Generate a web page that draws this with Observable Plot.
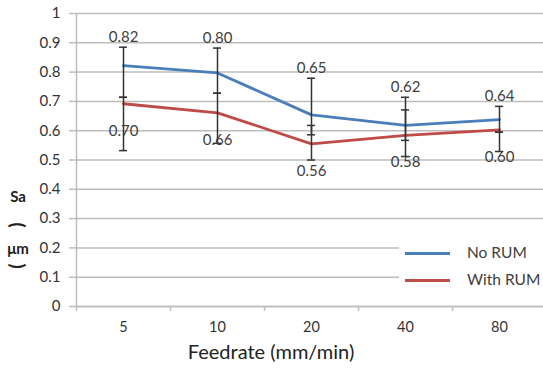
<!DOCTYPE html>
<html>
<head>
<meta charset="utf-8">
<script src="https://cdn.jsdelivr.net/npm/d3@7"></script>
<script src="https://cdn.jsdelivr.net/npm/@observablehq/plot@0.6"></script>
<style>
  html, body { margin: 0; padding: 0; background: #fff; }
  #wrap { position: relative; width: 543px; height: 375px; overflow: hidden; font-family: Lato, "Open Sans", sans-serif; color: #404040; }
  #legend { position: absolute; left: 399px; top: 239px; width: 150px; height: 54px; background: #fff; }
  .lg { position: absolute; left: 6px; width: 45px; height: 0; border-top: 3px solid; }
  .lt { position: absolute; left: 68px; font-size: 15.5px; color: #404040; }
</style>
</head>
<body>
<div id="wrap"></div>
<script>
const feedrates = ["5", "10", "20", "40", "80"];
const noRUM = [0.822, 0.797, 0.654, 0.618, 0.638];
const withRUM = [0.692, 0.661, 0.555, 0.584, 0.603];
const noRUMLabels = ["0.82", "0.80", "0.65", "0.62", "0.64"];
const withRUMLabels = ["0.70", "0.66", "0.56", "0.58", "0.60"];
const noRUMLow = [0.714, 0.728, 0.586, 0.567, 0.595];
const noRUMHigh = [0.885, 0.882, 0.779, 0.714, 0.683];
const withRUMLow = [0.532, 0.557, 0.500, 0.512, 0.529];
const withRUMHigh = [0.714, 0.728, 0.618, 0.671, 0.595];
const yTicks = [0, 0.1, 0.2, 0.3, 0.4, 0.5, 0.6, 0.7, 0.8, 0.9, 1];
const yTickLabels = ["0", "0.1", "0.2", "0.3", "0.4", "0.5", "0.6", "0.7", "0.8", "0.9", "1"];
const seriesNames = ["No RUM", "With RUM"];
const colors = ["#4a7ebb", "#be4b48"];
const yTitleParts = ["Sa", "(", "μm", ")"];

const rows = feedrates.flatMap((f, i) => [
  {f, series: seriesNames[0], v: noRUM[i], lo: noRUMLow[i], hi: noRUMHigh[i], label: noRUMLabels[i]},
  {f, series: seriesNames[1], v: withRUM[i], lo: withRUMLow[i], hi: withRUMHigh[i], label: withRUMLabels[i]}
]);
const blue = rows.filter(d => d.series === seriesNames[0]);
const red = rows.filter(d => d.series === seriesNames[1]);
const caps = rows.flatMap(d => [{f: d.f, y: d.lo}, {f: d.f, y: d.hi}]);

const W = 543, H = 375;
const bw = 94;
const chart = Plot.plot({
  width: W,
  height: H,
  marginTop: 13,
  marginBottom: 69,
  marginLeft: 76,
  marginRight: 0,
  style: {fontFamily: "Lato, 'Open Sans', sans-serif", color: "#404040", background: "white"},
  x: {domain: feedrates, range: [76, 76 + bw * 5], padding: 0},
  y: {domain: [0, 1]},
  color: {domain: seriesNames, range: colors},
  marks: [
    Plot.gridY(yTicks, {stroke: "#bdbdbd", strokeOpacity: 1, strokeWidth: 1.5}),
    Plot.ruleX([0], {x: () => feedrates[0], dx: -bw / 2, y1: 0, y2: 1, stroke: "#bdbdbd", strokeWidth: 1.5}),
    Plot.ruleY([0], {stroke: "#bdbdbd", strokeWidth: 1.5}),
    Plot.axisY({ticks: yTicks, tickFormat: (d, i) => yTickLabels[i], tickSize: 7, tickPadding: 9, fontSize: 15, stroke: "#bdbdbd", strokeWidth: 1.5, label: null, color: "#333"}),
    Plot.axisX({tickSize: 5, dx: -bw / 2, tickFormat: () => "", stroke: "#bdbdbd", strokeWidth: 1.5, label: null}),
    Plot.axisX({tickSize: 0, tickPadding: 15, fontSize: 14.5, label: null, color: "#333"}),
    Plot.line(rows, {x: "f", y: "v", stroke: "series", strokeWidth: 2.8}),
    Plot.ruleX(rows, {x: "f", y1: "lo", y2: "hi", stroke: "#333", strokeWidth: 1.5}),
    Plot.tickY(caps, {x: "f", y: "y", stroke: "#333", strokeWidth: 1.5, insetLeft: (bw - 8) / 2, insetRight: (bw - 8) / 2}),
    Plot.text(blue, {x: "f", y: "hi", text: "label", dy: -10, fontSize: 15, fill: "#404040"}),
    Plot.text(red, {x: "f", y: "v", text: "label", dy: 27, fontSize: 15, fill: "#404040"}),
    Plot.text(["Feedrate (mm/min)"], {frameAnchor: "bottom", dx: -39, dy: 52, fontSize: 20, fill: "#222"}),
    () => {
      // stacked y-axis title "Sa (μm)" with parentheses turned sideways
      const g = d3.create("svg:g").attr("fill", "#222").attr("font-weight", "bold").attr("text-anchor", "middle");
      const ys = [197, 225, 249, 266];
      yTitleParts.forEach((t, i) => {
        const paren = t === "(" || t === ")";
        g.append("text")
          .attr("transform", `translate(18,${ys[i]})${paren ? " rotate(90)" : ""}`)
          .attr("dy", "0.35em")
          .attr("font-size", paren ? 19 : 15)
          .text(t);
      });
      return g.node();
    }
  ]
});
const wrap = document.getElementById("wrap");
wrap.appendChild(chart);

const leg = document.createElement("div");
leg.id = "legend";
seriesNames.forEach((s, i) => {
  const l = document.createElement("div");
  l.className = "lg";
  l.style.top = (13 + i * 27) + "px";
  l.style.borderColor = colors[i];
  leg.appendChild(l);
  const t = document.createElement("div");
  t.className = "lt";
  t.style.top = (4 + i * 27) + "px";
  t.textContent = s;
  leg.appendChild(t);
});
wrap.appendChild(leg);
</script>
</body>
</html>
